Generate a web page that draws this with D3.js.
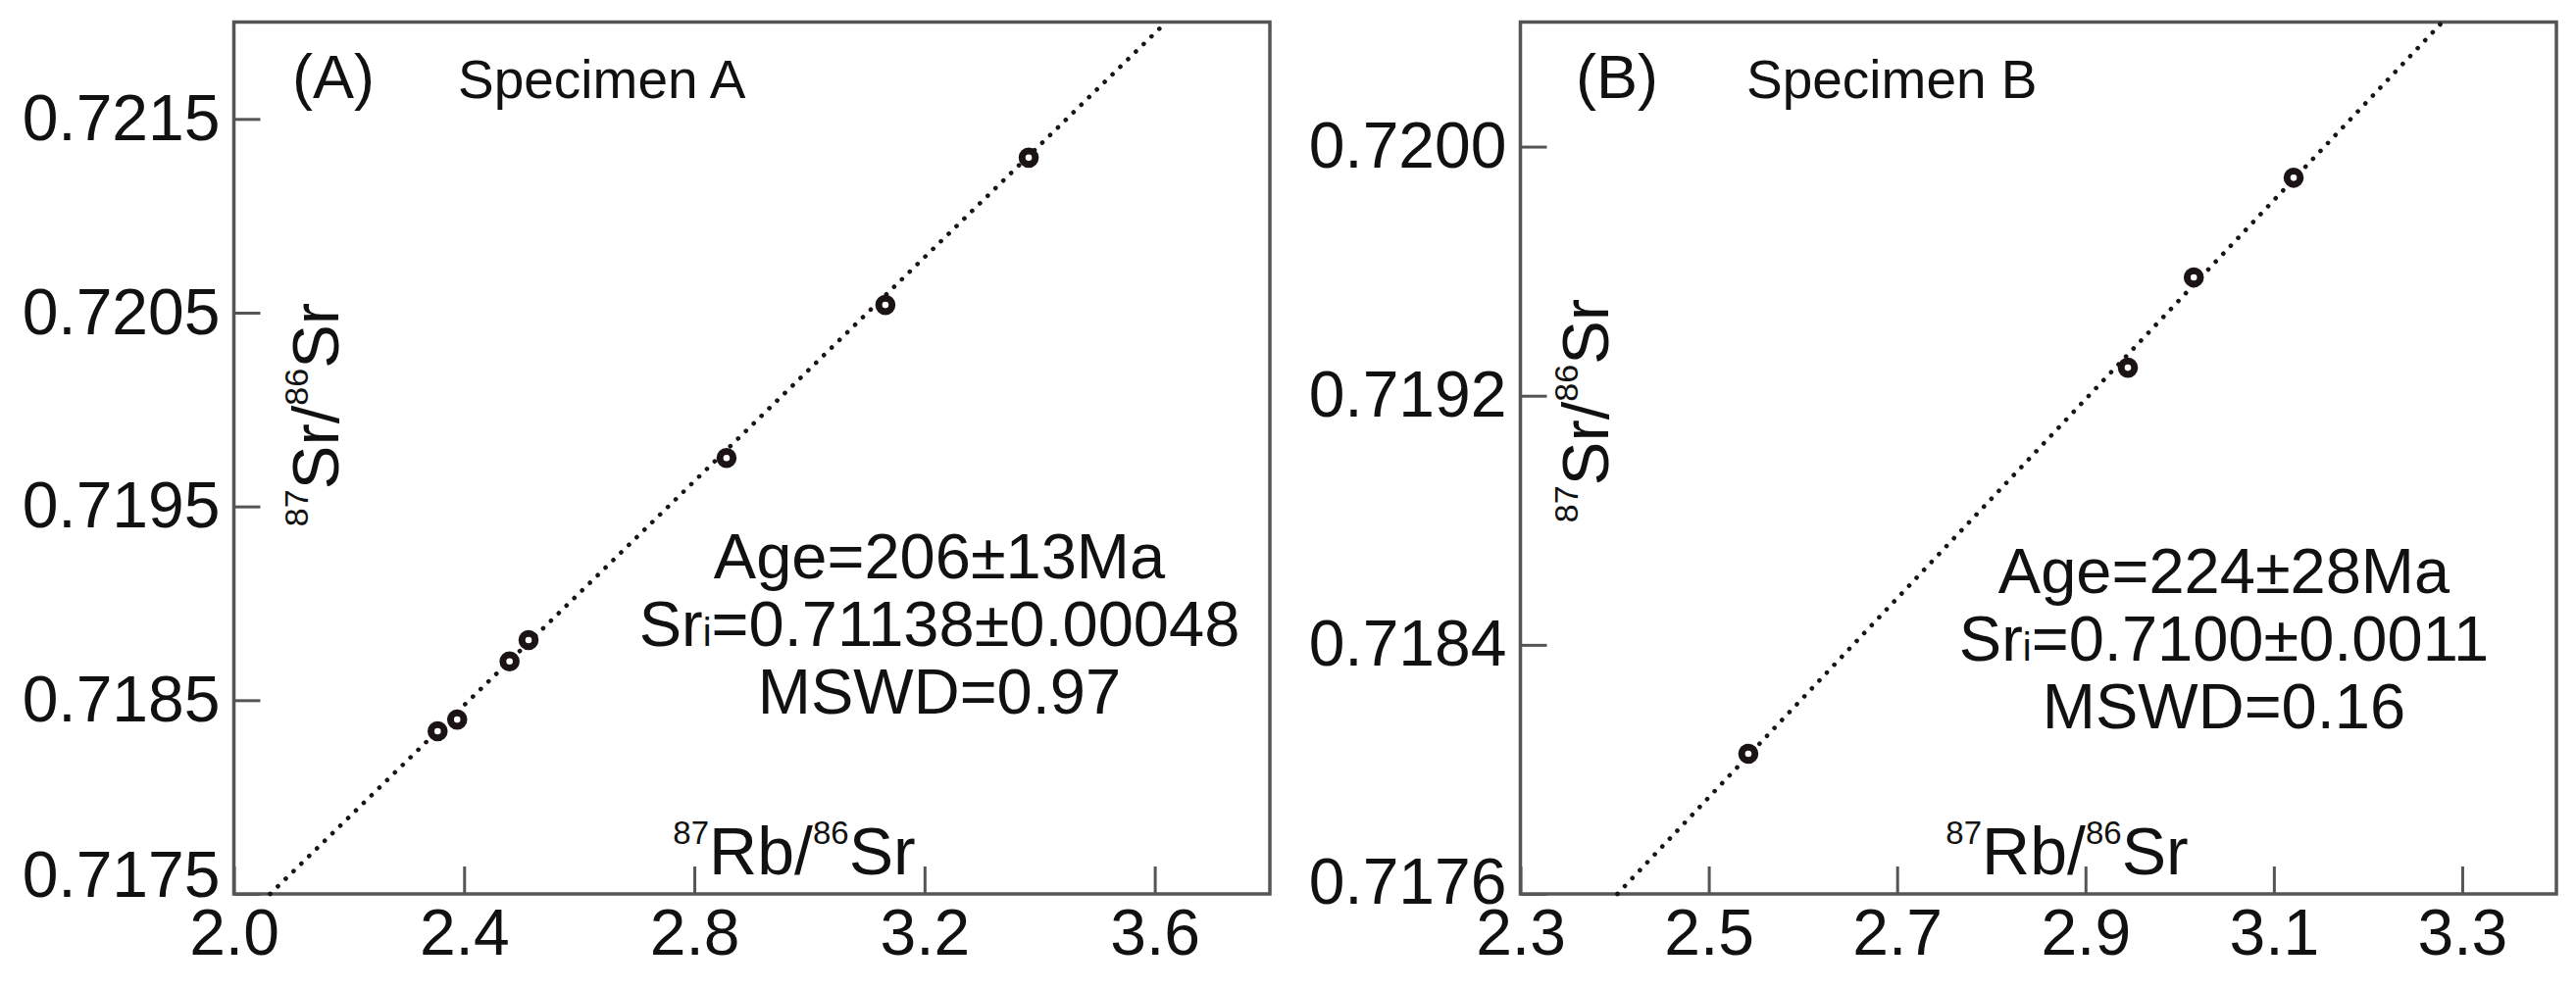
<!DOCTYPE html>
<html>
<head>
<meta charset="utf-8">
<script src="https://cdn.jsdelivr.net/npm/d3@7"></script>
<style>
  html, body { margin: 0; padding: 0; background: #ffffff; }
  svg text { font-family: "Liberation Sans", Arial, Helvetica, sans-serif; fill: #111; }
</style>
</head>
<body>
<svg id="chart" width="2627" height="1010"></svg>
<script>
// ---------------- data ----------------
const panelLabels = ["(A)", "(B)"];
const specimenNames = ["Specimen A", "Specimen B"];

// Panel A: 87Rb/86Sr vs 87Sr/86Sr
const rbSrA = [2.354, 2.388, 2.479, 2.512, 2.856, 3.132, 3.381];
const srSrA = [0.71834, 0.71840, 0.71870, 0.71881, 0.71975, 0.72054, 0.72130];
// Panel B
const rbSrB = [2.542, 2.945, 3.015, 3.121];
const srSrB = [0.71805, 0.71929, 0.71958, 0.71990];

// isochron line end points
const lineXA = [2.063, 3.620];
const lineYA = [0.7175, 0.7220];
const lineXB = [2.403, 3.279];
const lineYB = [0.7176, 0.7204];

// axes
const xDomainA = [2.0, 3.8];
const yDomainA = [0.7175, 0.7220];
const xDomainB = [2.3, 3.4];
const yDomainB = [0.7176, 0.7204];
const xTicksA = [2.0, 2.4, 2.8, 3.2, 3.6];
const yTicksA = [0.7175, 0.7185, 0.7195, 0.7205, 0.7215];
const xTicksB = [2.3, 2.5, 2.7, 2.9, 3.1, 3.3];
const yTicksB = [0.7176, 0.7184, 0.7192, 0.7200];

// isochron results
const statsA = ["Age=206\u00B113Ma", "Sri=0.71138\u00B10.00048", "MSWD=0.97"];
const statsB = ["Age=224\u00B128Ma", "Sri=0.7100\u00B10.0011", "MSWD=0.16"];

// ---------------- layout ----------------
const panels = [
  { label: panelLabels[0], name: specimenNames[0], xs: rbSrA, ys: srSrA, lx: lineXA, ly: lineYA,
    xd: xDomainA, yd: yDomainA, xt: xTicksA, yt: yTicksA, stats: statsA, xFmt: ".1f", yFmt: ".4f",
    left: 238.5, right: 1295, labelX: 298, nameX: 467, statsX: 958, statsY: 590,
    xTitleX: 810, yTitleX: 345, yTitleY: 423, bottomLabelShift: -19 },
  { label: panelLabels[1], name: specimenNames[1], xs: rbSrB, ys: srSrB, lx: lineXB, ly: lineYB,
    xd: xDomainB, yd: yDomainB, xt: xTicksB, yt: yTicksB, stats: statsB, xFmt: ".1f", yFmt: ".4f",
    left: 1550.5, right: 2607, labelX: 1607, nameX: 1781, statsX: 2268, statsY: 605,
    xTitleX: 2108, yTitleX: 1640, yTitleY: 419, bottomLabelShift: -12 }
];
const plotTop = 22.5, plotBottom = 912;
const frameColor = "#555";

const svg = d3.select("#chart");

panels.forEach(p => {
  const x = d3.scaleLinear().domain(p.xd).range([p.left, p.right]);
  const y = d3.scaleLinear().domain(p.yd).range([plotBottom, plotTop]);
  const g = svg.append("g");

  // axes with inward ticks
  const yAxis = d3.axisLeft(y).tickValues(p.yt).tickFormat(d3.format(p.yFmt))
    .tickSizeInner(-27).tickSizeOuter(0).tickPadding(14);
  const gy = g.append("g").attr("transform", `translate(${p.left},0)`).call(yAxis);
  const xAxis = d3.axisBottom(x).tickValues(p.xt).tickFormat(d3.format(p.xFmt))
    .tickSizeInner(-28).tickSizeOuter(0).tickPadding(15);
  const gx = g.append("g").attr("transform", `translate(0,${plotBottom})`).call(xAxis);

  [gx, gy].forEach(a => {
    a.select(".domain").remove();
    a.selectAll(".tick line").attr("stroke", frameColor).attr("stroke-width", 3);
    a.selectAll(".tick text").attr("font-size", 66).attr("fill", "#111")
      .style("font-family", '"Liberation Sans", Arial, sans-serif');
  });
  gy.selectAll(".tick text").filter(d => d === p.yt[0])
    .attr("transform", `translate(0,${p.bottomLabelShift})`);

  // frame
  g.append("rect").attr("x", p.left).attr("y", plotTop)
    .attr("width", p.right - p.left).attr("height", plotBottom - plotTop)
    .attr("fill", "none").attr("stroke", frameColor).attr("stroke-width", 3.5);

  // isochron (dotted)
  const lineData = p.lx.map((v, i) => [v, p.ly[i]]);
  g.append("path").datum(lineData)
    .attr("d", d3.line().x(d => x(d[0])).y(d => y(d[1])))
    .attr("fill", "none").attr("stroke", "#1a1414").attr("stroke-width", 4.6)
    .attr("stroke-linecap", "round").attr("stroke-dasharray", "0.1 11");

  // points
  g.selectAll("circle.pt").data(p.xs.map((v, i) => [v, p.ys[i]])).join("circle")
    .attr("class", "pt")
    .attr("cx", d => x(d[0])).attr("cy", d => y(d[1])).attr("r", 6.8)
    .attr("fill", "#fff").attr("stroke", "#1c1414").attr("stroke-width", 7);

  // panel label and specimen name
  g.append("text").attr("x", p.labelX).attr("y", 100).attr("font-size", 63).text(p.label);
  g.append("text").attr("x", p.nameX).attr("y", 100).attr("font-size", 55).text(p.name);

  // stats
  p.stats.forEach((s, i) => {
    const t = g.append("text").attr("x", p.statsX).attr("y", p.statsY + i * 69)
      .attr("text-anchor", "middle").attr("font-size", 65);
    if (s.startsWith("Sri")) {
      t.append("tspan").text("Sr");
      t.append("tspan").attr("font-size", 40).text("i");
      t.append("tspan").text(s.slice(3));
    } else {
      t.text(s);
    }
  });

  // x title: 87Rb/86Sr
  const xt = g.append("text").attr("x", p.xTitleX).attr("y", 892)
    .attr("text-anchor", "middle").attr("font-size", 68);
  xt.append("tspan").attr("font-size", 33).attr("dy", -31).text("87");
  xt.append("tspan").attr("dy", 31).text("Rb/");
  xt.append("tspan").attr("font-size", 33).attr("dy", -31).text("86");
  xt.append("tspan").attr("dy", 31).text("Sr");

  // y title: 87Sr/86Sr (rotated)
  const yt = g.append("text")
    .attr("transform", `translate(${p.yTitleX},${p.yTitleY}) rotate(-90)`)
    .attr("text-anchor", "middle").attr("font-size", 67);
  yt.append("tspan").attr("font-size", 34).attr("dy", -31).text("87");
  yt.append("tspan").attr("dy", 31).text("Sr/");
  yt.append("tspan").attr("font-size", 34).attr("dy", -31).text("86");
  yt.append("tspan").attr("dy", 31).text("Sr");
});
</script>
</body>
</html>
